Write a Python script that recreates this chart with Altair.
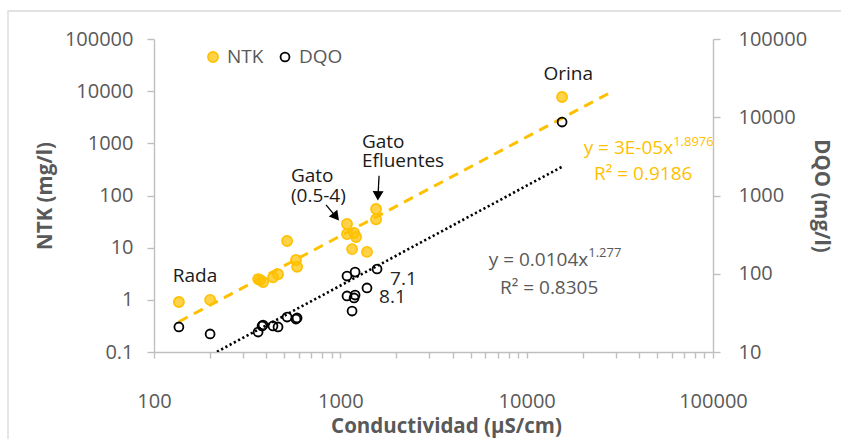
import altair as alt
import pandas as pd

# ---------------- data ----------------
# NTK (mg/l, left axis) vs conductivity (µS/cm)
ntk_cond = [136, 200, 362, 371, 385, 435, 463, 518, 578, 586,
            1086, 1086, 1185, 1214, 1156, 1390, 1555, 1555, 15490]
ntk_val = [0.91, 1.0, 2.5, 2.4, 2.2, 2.7, 3.1, 13.4, 5.8, 4.3,
           28.5, 18.3, 19.1, 16.0, 9.4, 8.3, 55, 35, 7730]

# DQO (mg/l, right axis) vs conductivity (µS/cm)
dqo_cond = [136, 200, 362, 380, 385, 435, 463, 518, 578, 586,
            1086, 1200, 1574, 1086, 1200, 1185, 1390, 1156, 15490]
dqo_val = [20.9, 17.0, 18.0, 21.5, 22.1, 21.5, 20.9, 28.0, 26.4, 27.2,
           93.5, 105, 115, 52, 53.5, 49, 65.8, 33.4, 8690]

# power trend lines  y = a * x^b  and the x range they are drawn over
ntk_trend = {"a": 3.4e-5, "b": 1.8976, "x": [136, 29000]}
dqo_trend = {"a": 0.0104, "b": 1.277, "x": [136, 15490]}

# axis ticks
x_decades = [100, 1000, 10000, 100000]
y_left_ticks = [0.1, 1, 10, 100, 1000, 10000, 100000]
y_right_ticks = [10, 100, 1000, 10000, 100000]

# annotations (positions in data units: conductivity, NTK-axis value)
labels_black = [
    {"x": 166, "y": 2.21, "t": "Rada"},
    {"x": 16700, "y": 16630, "t": "Orina"},
]
label_gato = {"x": 543, "y": 183, "t": ["Gato", "(0.5-4)"]}
label_efl = {"x": 1306, "y": 824, "t": ["Gato", "Efluentes"]}
labels_ph = [
    {"x": 1849, "y": 1.93, "t": "7.1"},
    {"x": 1614, "y": 0.872, "t": "8.1"},
]
eq_ntk = {"main": "y = 3E-05x", "sup": "1.8976", "r2": "R² = 0.9186",
          "x": 61100, "y": 631, "ysup": 900, "xr2": 42200, "yr2": 200}
eq_dqo = {"main": "y = 0.0104x", "sup": "1.277", "r2": "R² = 0.8305",
          "x": 21400, "y": 4.48, "ysup": 6.65, "xr2": 13200, "yr2": 1.30}
arrows = [
    {"x": 838, "y": 66.2, "x2": 948, "y2": 39.0, "angle": 321},
    {"x": 1614, "y": 239, "x2": 1592, "y2": 98.6, "angle": 2},
]

# ---------------- styling ----------------
FONT = "Open Sans"
GRAY = "#595959"
AXIS = "#BFBFBF"
ORANGE = "#FFC000"

xs = alt.Scale(type="log", domain=[100, 100000])
yl = alt.Scale(type="log", domain=[0.1, 100000])
yr = alt.Scale(type="log", domain=[10, 100000])

x_tick_values = [d * k for d in x_decades[:-1] for k in range(1, 10)] + [x_decades[-1]]

x_axis = alt.Axis(
    values=x_tick_values,
    labelExpr="indexof([100,1000,10000,100000], datum.value) >= 0 ? format(datum.value, 'd') : ''",
    title="Conductividad (µS/cm)", grid=False, tickSize=6, labelPadding=33,
    titlePadding=5, titleX=292, labelFlush=False, labelOverlap=False,
)
yl_axis = alt.Axis(
    values=y_left_ticks, orient="left",
    labelExpr="datum.value < 1 ? '0.1' : format(datum.value, 'd')",
    title="NTK (mg/l)", grid=False, tickSize=7, labelPadding=14, titlePadding=9,
)
yr_axis = alt.Axis(
    values=y_right_ticks, orient="right", format="d",
    title="DQO (mg/l)", grid=False, tickSize=7, labelPadding=18, titlePadding=4,
)


def X(field):
    return alt.X(field, type="quantitative", scale=xs, axis=x_axis)


def YL(field):
    return alt.Y(field, type="quantitative", scale=yl, axis=yl_axis)


def YR(field):
    return alt.Y(field, type="quantitative", scale=yr, axis=yr_axis)


ntk_df = pd.DataFrame({"cond": ntk_cond, "val": ntk_val})
dqo_df = pd.DataFrame({"cond": dqo_cond, "val": dqo_val})


def trend_df(tr):
    return pd.DataFrame({"cond": tr["x"], "val": [tr["a"] * x ** tr["b"] for x in tr["x"]]})


one = pd.DataFrame({"k": [0]})

# ---- left (NTK) layer ----
ntk_pts = alt.Chart(ntk_df).mark_point(
    shape="circle", filled=True, size=105, fill=ORANGE, fillOpacity=0.72,
    stroke=ORANGE, strokeWidth=1.6, opacity=1,
).encode(x=X("cond"), y=YL("val"))

ntk_line = alt.Chart(trend_df(ntk_trend)).mark_line(
    color=ORANGE, strokeWidth=3, strokeDash=[10, 7],
).encode(x=X("cond"), y=YL("val"))


def txt(data, color, size=19, align="center", **kw):
    return alt.Chart(pd.DataFrame(data)).mark_text(
        font=FONT, fontSize=size, color=color, align=align, baseline="alphabetic", **kw
    ).encode(x=X("x"), y=YL("y"), text="t:N")


t_black = txt(labels_black, "#1a1a1a")
t_gato = alt.Chart(pd.DataFrame([label_gato])).mark_text(
    font=FONT, fontSize=19, color="#1a1a1a", align="left", baseline="alphabetic", lineHeight=20,
).encode(x=X("x"), y=YL("y"), text="t")
t_efl = alt.Chart(pd.DataFrame([label_efl])).mark_text(
    font=FONT, fontSize=19, color="#1a1a1a", align="left", baseline="alphabetic", lineHeight=19,
).encode(x=X("x"), y=YL("y"), text="t")
t_ph = txt(labels_ph, "#262626", align="left")


def equation(eq, color):
    main = txt([{"x": eq["x"], "y": eq["y"], "t": eq["main"]}], color, size=19, align="right")
    sup = txt([{"x": eq["x"], "y": eq["ysup"], "t": eq["sup"]}], color, size=13, align="left")
    r2 = txt([{"x": eq["xr2"], "y": eq["yr2"], "t": eq["r2"]}], color, size=19, align="center")
    return [main, sup, r2]


arrow_df = pd.DataFrame(arrows)
arrow_shaft = alt.Chart(arrow_df).mark_rule(color="#000000", strokeWidth=1.3).encode(
    x=X("x"), y=YL("y"), x2="x2:Q", y2="y2:Q",
)
arrow_head = alt.Chart(arrow_df).mark_point(
    shape="triangle-down", filled=True, color="#000000", size=120, opacity=1,
).encode(x=X("x2"), y=YL("y2"), angle=alt.Angle("angle:Q", scale=None))

# legend (drawn inside the plot, top-left)
leg_ntk_sym = alt.Chart(one).mark_point(
    shape="circle", filled=True, size=105, fill=ORANGE, fillOpacity=0.72, stroke=ORANGE,
    strokeWidth=1.6, opacity=1,
).encode(x=alt.value(59), y=alt.value(18))
leg_dqo_sym = alt.Chart(one).mark_point(
    shape="circle", filled=False, size=80, color="#000000", strokeWidth=1.8, opacity=1,
).encode(x=alt.value(131), y=alt.value(18))
leg_txt = alt.Chart(pd.DataFrame({"t": ["NTK", "DQO"], "px": [73, 145]})).mark_text(
    font=FONT, fontSize=19, color=GRAY, align="left", baseline="middle",
).encode(x=alt.X("px:Q", scale=None), y=alt.value(18), text="t:N")

border = alt.Chart(one).mark_rect(
    fill=None, stroke="#D9D9D9", strokeWidth=1.3,
).encode(x=alt.value(-146), x2=alt.value(720), y=alt.value(-28), y2=alt.value(440))

left = alt.layer(
    ntk_line, ntk_pts, t_black, t_gato, t_efl, t_ph,
    *equation(eq_ntk, ORANGE), *equation(eq_dqo, GRAY),
    arrow_shaft, arrow_head,
)

# ---- right (DQO) layer ----
dqo_pts = alt.Chart(dqo_df).mark_point(
    shape="circle", filled=False, size=80, color="#000000", strokeWidth=1.8, opacity=1,
).encode(x=X("cond"), y=YR("val"))
dqo_line = alt.Chart(trend_df(dqo_trend)).mark_line(
    color="#000000", strokeWidth=2.6, strokeDash=[2.2, 2.6], clip=True,
).encode(x=X("cond"), y=YR("val"))
right = alt.layer(dqo_line, dqo_pts)

chart = alt.layer(left, right, border, leg_ntk_sym, leg_dqo_sym, leg_txt).resolve_scale(
    y="independent"
).properties(
    width=559, height=313,
    autosize=alt.AutoSizeParams(type="none"),
    padding={"left": 154, "top": 39, "right": 128, "bottom": 87},
).configure_view(stroke=None).configure_axis(
    labelFont=FONT, labelFontSize=20, labelColor=GRAY,
    titleFont=FONT, titleFontSize=20.5, titleColor=GRAY, titleFontWeight="bold",
    domainColor=AXIS, domainWidth=1.4, tickColor=AXIS, tickWidth=1.4,
)

chart.save("out.html", embed_options={"renderer": "svg", "actions": False})
